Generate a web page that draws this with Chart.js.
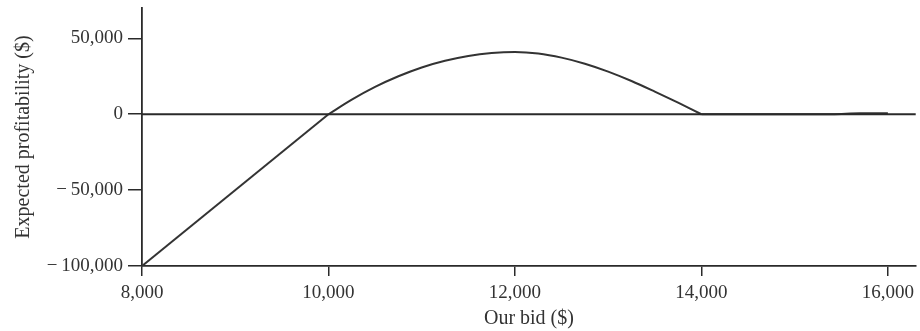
<!DOCTYPE html>
<html>
<head>
<meta charset="utf-8">
<script src="https://cdn.jsdelivr.net/npm/chart.js@4"></script>
<style>
  html, body { margin: 0; padding: 0; background: #fff; }
  #wrap { width: 920px; height: 331px; }
</style>
</head>
<body>
<div id="wrap"><canvas id="bidChart" width="920" height="331"></canvas></div>
<script>
// bid ($) and expected profitability ($)
const bids = [8000, 10000, 10250, 10500, 10750, 11000, 11250, 11500, 11750, 12000,
              12250, 12500, 12750, 13000, 13250, 13500, 13750, 14000, 15400, 15700, 16000];
const profits = [-100000, 0, 9600, 18000, 25000, 30800, 35200, 38400, 40300, 41000,
                 40000, 37300, 33300, 28100, 21900, 14900, 7600, 0, 0, 600, 600];
// the curve has corners at these bids
const corners = [10000, 14000];

const xTicks = [8000, 10000, 12000, 14000, 16000];
const yTicks = [-100000, -50000, 0, 50000];
const xRange = [8000, 16300];
const yRange = [-100000, 70000];

const ink = '#2a2a2a';
const serif = '"Liberation Serif", "DejaVu Serif", serif';

function fmt(v) {
    const s = Math.abs(v).toLocaleString('en-US');
    return v < 0 ? '\u2212\u2009' + s : s;
}

// split the curve at the corners so the smoothing doesn't round them off
const edges = [bids[0], ...corners, bids[bids.length - 1]];
const pieces = [];
for (let k = 0; k < edges.length - 1; k++) {
    const pts = [];
    bids.forEach((b, i) => {
        if (b >= edges[k] && b <= edges[k + 1]) pts.push({ x: b, y: profits[i] });
    });
    pieces.push(pts);
}

const zeroLine = [{ x: xRange[0], y: 0 }, { x: xRange[1], y: 0 }];

const datasets = [{
    label: 'Zero',
    data: zeroLine,
    borderColor: ink,
    borderWidth: 1.8,
    pointRadius: 0
}];
pieces.forEach(pts => {
    datasets.push({
        label: 'Expected profitability',
        data: pts,
        borderColor: '#333',
        borderWidth: 2,
        pointRadius: 0,
        cubicInterpolationMode: 'monotone'
    });
});

const ctx = document.getElementById('bidChart').getContext('2d');

window.bidChart = new Chart(ctx, {
    type: 'line',
    data: { datasets: datasets },
    options: {
        responsive: false,
        animation: false,
        layout: { padding: { top: 8, left: 12, right: 0, bottom: 0 } },
        plugins: { legend: { display: false }, tooltip: { enabled: false } },
        scales: {
            x: {
                type: 'linear',
                min: xRange[0],
                max: xRange[1],
                afterBuildTicks: scale => { scale.ticks = xTicks.map(v => ({ value: v })); },
                afterFit: scale => { scale.height = 65; },
                grid: { drawOnChartArea: false, drawTicks: true, tickLength: 10, color: ink, lineWidth: 1.5 },
                border: { color: ink, width: 1.8 },
                ticks: {
                    padding: 6,
                    color: '#333',
                    font: { family: serif, size: 19 },
                    maxRotation: 0,
                    callback: v => fmt(v)
                },
                title: {
                    display: true,
                    text: 'Our bid ($)',
                    color: '#333',
                    font: { family: serif, size: 20 },
                    padding: { top: 2, bottom: 0 }
                }
            },
            y: {
                type: 'linear',
                min: yRange[0],
                max: yRange[1],
                afterBuildTicks: scale => { scale.ticks = yTicks.map(v => ({ value: v })); },
                afterFit: scale => {
                    scale.width = 130;
                    scale.paddingTop = 0;
                    scale.paddingBottom = 0;
                },
                grid: { drawOnChartArea: false, drawTicks: true, tickLength: 14, color: ink, lineWidth: 1.5 },
                border: { color: ink, width: 1.8 },
                ticks: {
                    padding: 5,
                    color: '#333',
                    font: { family: serif, size: 19 },
                    callback: v => fmt(v)
                },
                title: {
                    display: true,
                    text: 'Expected profitability ($)',
                    color: '#333',
                    font: { family: serif, size: 20 },
                    padding: { top: 0, bottom: 0 }
                }
            }
        }
    }
});
</script>
</body>
</html>
